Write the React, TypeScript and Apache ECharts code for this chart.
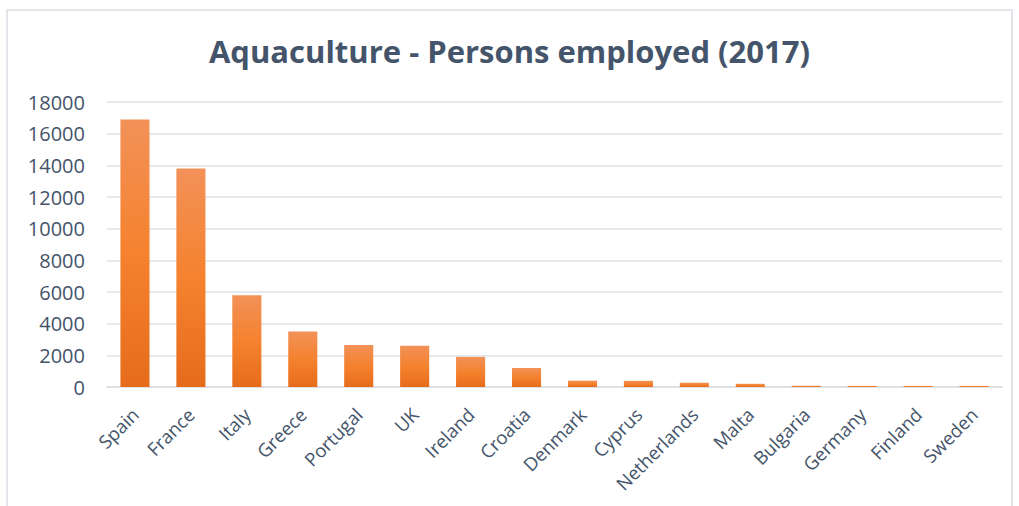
import React, { useEffect, useRef } from "react";
import * as echarts from "echarts";

const categories = ["Spain", "France", "Italy", "Greece", "Portugal", "UK", "Ireland", "Croatia", "Denmark", "Cyprus", "Netherlands", "Malta", "Bulgaria", "Germany", "Finland", "Sweden"];
const employed = [16900, 13800, 5800, 3500, 2650, 2600, 1900, 1200, 400, 390, 270, 200, 80, 70, 70, 70];
const yTicks = { min: 0, max: 18000, interval: 2000 };
const titleText = "Aquaculture - Persons employed (2017)";

export default function App() {
  const ref = useRef<HTMLDivElement>(null);
  useEffect(() => {
    if (!ref.current) return;
    const chart = echarts.init(ref.current, undefined, { renderer: "svg" });
    const textColor = "#44546a";
    chart.setOption({
      animation: false,
      backgroundColor: "#ffffff",
      graphic: [
        {
          type: "rect",
          shape: { x: 7, y: 10, width: 1005, height: 505 },
          style: { fill: "none", stroke: "#d9dde3", lineWidth: 1.5 },
          silent: true,
        },
      ],
      title: {
        text: titleText,
        left: "center",
        top: 30,
        textStyle: { fontFamily: "Open Sans", fontWeight: "bold", fontSize: 31, color: textColor },
      },
      grid: { left: 107, right: 17, top: 102, bottom: 119, containLabel: false },
      xAxis: {
        type: "category",
        data: categories,
        axisTick: { show: false },
        axisLine: { lineStyle: { color: "#dde1e6", width: 2 } },
        axisLabel: {
          rotate: 45,
          interval: 0,
          margin: 24,
          fontFamily: "Open Sans",
          fontSize: 18.5,
          color: textColor,
        },
      },
      yAxis: {
        type: "value",
        min: yTicks.min,
        max: yTicks.max,
        interval: yTicks.interval,
        axisLine: { show: false },
        axisTick: { show: false },
        splitLine: { lineStyle: { color: "#dde1e6", width: 1.5 } },
        axisLabel: {
          margin: 22,
          fontFamily: "Open Sans",
          fontSize: 20,
          color: textColor,
          formatter: (v: number) => String(v),
        },
      },
      series: [
        {
          type: "bar",
          data: employed,
          barWidth: "52%",
          itemStyle: {
            color: new echarts.graphic.LinearGradient(0, 0, 0, 1, [
              { offset: 0, color: "#f29158" },
              { offset: 0.5, color: "#f5822e" },
              { offset: 1, color: "#e66c1b" },
            ]),
          },
        },
      ],
    });
    return () => chart.dispose();
  }, []);
  return <div ref={ref} style={{ position: "fixed", left: 0, top: 0, width: 1019, height: 506 }} />;
}
